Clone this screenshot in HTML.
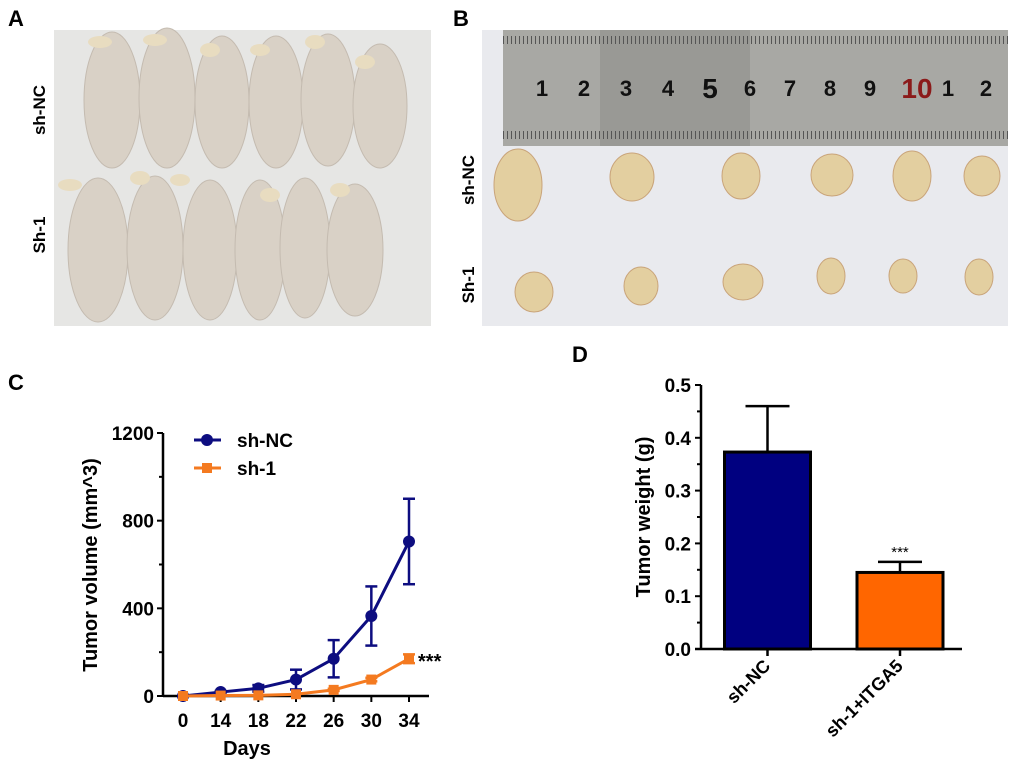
<!DOCTYPE html>
<html><head><meta charset="utf-8"><style>
body{margin:0;background:#fff;}
svg{display:block;font-family:"Liberation Sans",Arial,sans-serif;}
</style></head><body>
<svg id="fig" width="1020" height="773" viewBox="0 0 1020 773">
<!-- Panel A -->
<text x="8" y="26" font-size="22" font-weight="bold">A</text>
<g>
<rect x="54" y="30" width="377" height="296" fill="#e6e6e4"/>
<g fill="#d9d1c6" stroke="#c4bbb0" stroke-width="1">
<ellipse cx="112" cy="100" rx="28" ry="68"/><ellipse cx="167" cy="98" rx="28" ry="70"/><ellipse cx="222" cy="102" rx="27" ry="66"/>
<ellipse cx="276" cy="102" rx="27" ry="66"/><ellipse cx="328" cy="100" rx="27" ry="66"/><ellipse cx="380" cy="106" rx="27" ry="62"/>
<ellipse cx="98" cy="250" rx="30" ry="72"/><ellipse cx="155" cy="248" rx="28" ry="72"/><ellipse cx="210" cy="250" rx="27" ry="70"/>
<ellipse cx="260" cy="250" rx="25" ry="70"/><ellipse cx="305" cy="248" rx="25" ry="70"/><ellipse cx="355" cy="250" rx="28" ry="66"/>
</g>
<g fill="#e8dcc0"><ellipse cx="100" cy="42" rx="12" ry="6"/><ellipse cx="155" cy="40" rx="12" ry="6"/><ellipse cx="210" cy="50" rx="10" ry="7"/><ellipse cx="260" cy="50" rx="10" ry="6"/><ellipse cx="315" cy="42" rx="10" ry="7"/><ellipse cx="365" cy="62" rx="10" ry="7"/>
<ellipse cx="70" cy="185" rx="12" ry="6"/><ellipse cx="140" cy="178" rx="10" ry="7"/><ellipse cx="180" cy="180" rx="10" ry="6"/><ellipse cx="270" cy="195" rx="10" ry="7"/><ellipse cx="340" cy="190" rx="10" ry="7"/></g>
</g>
<text transform="translate(45,110) rotate(-90)" font-size="17" font-weight="bold" text-anchor="middle">sh-NC</text>
<text transform="translate(45,235) rotate(-90)" font-size="17" font-weight="bold" text-anchor="middle">Sh-1</text>

<!-- Panel B -->
<text x="453" y="26" font-size="22" font-weight="bold">B</text>
<g>
<rect x="482" y="30" width="526" height="296" fill="#e9eaee"/>
<rect x="503" y="30" width="505" height="116" fill="#a8a8a4"/>
<rect x="600" y="30" width="150" height="116" fill="#8a8a86" opacity="0.5"/>
<g font-size="22" font-weight="bold" text-anchor="middle" fill="#111">
<text x="542" y="96">1</text><text x="584" y="96">2</text><text x="626" y="96">3</text><text x="668" y="96">4</text><text x="710" y="98" font-size="28">5</text><text x="750" y="96">6</text><text x="790" y="96">7</text><text x="830" y="96">8</text><text x="870" y="96">9</text><text x="917" y="98" font-size="28" fill="#8b1a1a">10</text><text x="948" y="96">1</text><text x="986" y="96">2</text>
</g>
<g stroke="#555" stroke-width="1">
<line x1="503" y1="40" x2="1008" y2="40" stroke-dasharray="1 3" stroke-width="8"/>
<line x1="503" y1="135" x2="1008" y2="135" stroke-dasharray="1 3" stroke-width="8"/>
</g>
<g fill="#e3cfa0" stroke="#c9a47a">
<ellipse cx="518" cy="185" rx="24" ry="36"/><ellipse cx="632" cy="177" rx="22" ry="24"/><ellipse cx="741" cy="176" rx="19" ry="23"/><ellipse cx="832" cy="175" rx="21" ry="21"/><ellipse cx="912" cy="176" rx="19" ry="25"/><ellipse cx="982" cy="176" rx="18" ry="20"/>
<ellipse cx="534" cy="292" rx="19" ry="20"/><ellipse cx="641" cy="286" rx="17" ry="19"/><ellipse cx="743" cy="282" rx="20" ry="18"/><ellipse cx="831" cy="276" rx="14" ry="18"/><ellipse cx="903" cy="276" rx="14" ry="17"/><ellipse cx="979" cy="277" rx="14" ry="18"/>
</g>
</g>
<text transform="translate(474,180) rotate(-90)" font-size="17" font-weight="bold" text-anchor="middle">sh-NC</text>
<text transform="translate(474,285) rotate(-90)" font-size="17" font-weight="bold" text-anchor="middle">Sh-1</text>

<!-- Panel C -->
<text x="8" y="390" font-size="22" font-weight="bold">C</text>
<g id="chartC"></g>
<!-- Panel D -->
<text x="572" y="362" font-size="22" font-weight="bold">D</text>
<g id="chartD"></g>
</svg>
<script>
const days = ["0","14","18","22","26","30","34"];
const ncValues = [0,18,35,75,170,365,705];
const ncErrors = [0,5,15,45,85,135,195];
const sh1Values = [0,2,3,8,28,75,170];
const sh1Errors = [0,0,0,0,5,8,20];
const volTicks = [0,400,800,1200];
const weightGroups = ["sh-NC","sh-1+ITGA5"];
const weightValues = [0.373,0.145];
const weightErrors = [0.087,0.02];
const weightTicks = [0.0,0.1,0.2,0.3,0.4,0.5];

const NS="http://www.w3.org/2000/svg";
function mk(p,tag,at,txt){const e=document.createElementNS(NS,tag);for(const k in at)e.setAttribute(k,at[k]);if(txt!==undefined)e.textContent=txt;p.appendChild(e);return e;}

// Chart C
(function(){
const g=document.getElementById('chartC');
const x0=163,yB=696,yT=433;
const xs=i=>183+i*((409-183)/(days.length-1));
const ys=v=>yB-(v/1200)*(yB-yT);
let e=mk(g,'line',{x1:x0,y1:yT,x2:x0,y2:yB,stroke:'#000','stroke-width':2.5});

e=mk(g,'line',{x1:x0,y1:yB,x2:429,y2:yB,stroke:'#000','stroke-width':2.5});

volTicks.forEach(t=>{mk(g,'line',{x1:x0-6,y1:ys(t),x2:x0,y2:ys(t),stroke:'#000','stroke-width':2});
 e=mk(g,'text',{x:x0-9,y:ys(t)+7,'font-size':19,'font-weight':'bold','text-anchor':'end'},t);
 });
for(let t=200;t<1200;t+=400){mk(g,'line',{x1:x0-4,y1:ys(t),x2:x0,y2:ys(t),stroke:'#000','stroke-width':2});}
days.forEach((d,i)=>{mk(g,'line',{x1:xs(i),y1:yB,x2:xs(i),y2:yB+6,stroke:'#000','stroke-width':2});
 e=mk(g,'text',{x:xs(i),y:727,'font-size':19,'font-weight':'bold','text-anchor':'middle'},d);
 });
e=mk(g,'text',{transform:'translate(97,565) rotate(-90)','font-size':20,'font-weight':'bold','text-anchor':'middle'},'Tumor volume (mm^3)');

e=mk(g,'text',{x:247,y:755,'font-size':20,'font-weight':'bold','text-anchor':'middle'},'Days');

function series(vals,errs,col,sq,name){
 const sg=mk(g,'g',{});
 
 vals.forEach((v,i)=>{if(errs[i]>0){mk(sg,'line',{x1:xs(i),y1:ys(v+errs[i]),x2:xs(i),y2:ys(Math.max(0,v-errs[i])),stroke:col,'stroke-width':2.5});
  mk(sg,'line',{x1:xs(i)-6,y1:ys(v+errs[i]),x2:xs(i)+6,y2:ys(v+errs[i]),stroke:col,'stroke-width':2.5});
  mk(sg,'line',{x1:xs(i)-6,y1:ys(Math.max(0,v-errs[i])),x2:xs(i)+6,y2:ys(Math.max(0,v-errs[i])),stroke:col,'stroke-width':2.5});}});
 mk(sg,'polyline',{points:vals.map((v,i)=>xs(i)+','+ys(v)).join(' '),fill:'none',stroke:col,'stroke-width':3});
 vals.forEach((v,i)=>{let m=sq?mk(sg,'rect',{x:xs(i)-5,y:ys(v)-5,width:10,height:10,fill:col}):mk(sg,'circle',{cx:xs(i),cy:ys(v),r:6,fill:col});
  });
}
series(ncValues,ncErrors,'#0d0d80',false,'sh-nc-series');
series(sh1Values,sh1Errors,'#f47a20',true,'sh-1-series');
e=mk(g,'text',{x:418,y:668,'font-size':20,'font-weight':'bold'},'***');

// legend
const lg=mk(g,'g',{});
mk(lg,'line',{x1:194,y1:440,x2:221,y2:440,stroke:'#0d0d80','stroke-width':3});mk(lg,'circle',{cx:207,cy:440,r:6,fill:'#0d0d80'});
e=mk(lg,'text',{x:237,y:447,'font-size':19,'font-weight':'bold'},'sh-NC');
mk(lg,'line',{x1:194,y1:468,x2:221,y2:468,stroke:'#f47a20','stroke-width':3});mk(lg,'rect',{x:202,y:463,width:10,height:10,fill:'#f47a20'});
e=mk(lg,'text',{x:237,y:475,'font-size':19,'font-weight':'bold'},'sh-1');
})();

// Chart D
(function(){
const g=document.getElementById('chartD');
const x0=701,yB=649,yT=385;
const ys=v=>yB-(v/0.5)*(yB-yT);
const centers=[767.5,900];const bw=86;const cols=['#000080','#ff6600'];
let e=mk(g,'line',{x1:x0,y1:yT,x2:x0,y2:yB,stroke:'#000','stroke-width':2.5});

e=mk(g,'line',{x1:x0-6,y1:yB,x2:962,y2:yB,stroke:'#000','stroke-width':2.5});

weightTicks.forEach(t=>{mk(g,'line',{x1:x0-6,y1:ys(t),x2:x0,y2:ys(t),stroke:'#000','stroke-width':2});
 e=mk(g,'text',{x:x0-10,y:ys(t)+7,'font-size':19,'font-weight':'bold','text-anchor':'end'},t.toFixed(1));
 
 if(t<0.5)mk(g,'line',{x1:x0-4,y1:ys(t+0.05),x2:x0,y2:ys(t+0.05),stroke:'#000','stroke-width':2});});
weightValues.forEach((v,i)=>{const c=centers[i];
 mk(g,'line',{x1:c,y1:ys(v),x2:c,y2:ys(v+weightErrors[i]),stroke:'#000','stroke-width':2.5});
 mk(g,'line',{x1:c-22,y1:ys(v+weightErrors[i]),x2:c+22,y2:ys(v+weightErrors[i]),stroke:'#000','stroke-width':2.5});
 let b=mk(g,'rect',{x:c-bw/2,y:ys(v),width:bw,height:yB-ys(v),fill:cols[i],stroke:'#000','stroke-width':3});
 
 mk(g,'line',{x1:c,y1:yB,x2:c,y2:yB+7,stroke:'#000','stroke-width':2.5});
 e=mk(g,'text',{transform:`translate(${c+4},${yB+18}) rotate(-45)`,'font-size':18,'font-weight':'bold','text-anchor':'end'},weightGroups[i]);
 });
e=mk(g,'text',{x:centers[1],y:ys(weightValues[1]+weightErrors[1])-5,'font-size':15,'text-anchor':'middle'},'***');

e=mk(g,'text',{transform:'translate(650,517) rotate(-90)','font-size':20,'font-weight':'bold','text-anchor':'middle'},'Tumor weight (g)');

})();
</script>
</body></html>
